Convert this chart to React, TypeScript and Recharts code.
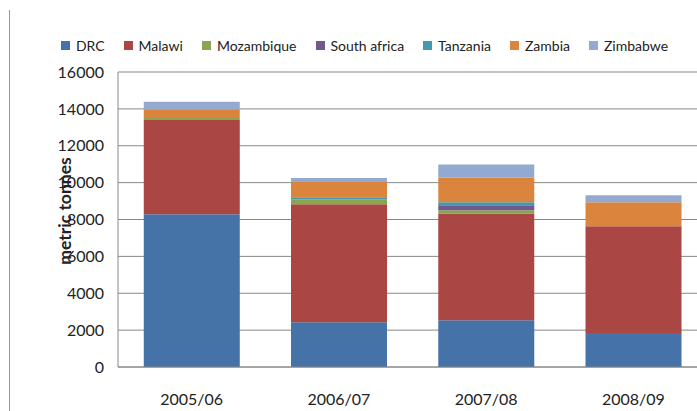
import React from 'react';
import { BarChart, Bar, XAxis, YAxis, CartesianGrid, Legend } from 'recharts';

const years = ['2005/06', '2006/07', '2007/08', '2008/09'];
const drc = [8290, 2430, 2540, 1840];
const malawi = [5110, 6400, 5780, 5800];
const mozambique = [110, 270, 180, 0];
const southAfrica = [0, 0, 270, 0];
const tanzania = [0, 110, 160, 0];
const zambia = [470, 820, 1350, 1290];
const zimbabwe = [400, 220, 700, 385];
const yTicks = [0, 2000, 4000, 6000, 8000, 10000, 12000, 14000, 16000];

const series = [
  { key: 'DRC', values: drc, color: '#4572A7' },
  { key: 'Malawi', values: malawi, color: '#AA4643' },
  { key: 'Mozambique', values: mozambique, color: '#89A54E' },
  { key: 'South africa', values: southAfrica, color: '#71588F' },
  { key: 'Tanzania', values: tanzania, color: '#4198AF' },
  { key: 'Zambia', values: zambia, color: '#DB843D' },
  { key: 'Zimbabwe', values: zimbabwe, color: '#93A9CF' },
];

const data = years.map((year, i) => {
  const row: Record<string, string | number> = { year };
  series.forEach((s) => {
    row[s.key] = s.values[i];
  });
  return row;
});

const font = 'Lato, "Open Sans", sans-serif';

const renderLegend = () => (
  <div style={{ display: 'flex', justifyContent: 'center', gap: 19, paddingLeft: 32, fontFamily: font, fontSize: 14, color: '#222' }}>
    {series.map((s) => (
      <div key={s.key} style={{ display: 'flex', alignItems: 'center' }}>
        <span style={{ display: 'inline-block', width: 9, height: 9, background: s.color, marginRight: 6 }} />
        <span>{s.key}</span>
      </div>
    ))}
  </div>
);

export default function App() {
  return (
    <div style={{ position: 'absolute', left: 0, top: 0, width: 697, height: 411, overflow: 'hidden', background: '#fff' }}>
      <div style={{ position: 'absolute', left: 9, top: 10, width: 1, height: 401, background: '#999' }} />
      <BarChart
        width={710}
        height={411}
        data={data}
        margin={{ top: 55, right: 3, left: 0, bottom: 0 }}
        barCategoryGap="17.5%"
      >
        <CartesianGrid vertical={false} stroke="#888" />
        <XAxis
          dataKey="year"
          height={44}
          axisLine={{ stroke: '#888' }}
          tickLine={false}
          tickSize={0}
          tickMargin={27}
          tick={{ fontFamily: font, fontSize: 16, fill: '#222' }}
        />
        <YAxis
          width={118}
          domain={[0, 16000]}
          ticks={yTicks}
          interval={0}
          axisLine={{ stroke: '#888' }}
          tickLine={false}
          tickSize={0}
          tickMargin={14}
          tick={{ fontFamily: font, fontSize: 16, fill: '#222' }}
          label={{
            content: () => (
              <text
                x={64}
                y={211}
                transform="rotate(-90 64 211)"
                textAnchor="middle"
                dominantBaseline="central"
                fontFamily={font}
                fontSize={17.5}
                fontWeight="bold"
                fill="#222"
              >
                metric tonnes
              </text>
            ),
          }}
        />
        <Legend
          verticalAlign="top"
          content={renderLegend}
          wrapperStyle={{ top: 37, left: 0, width: 697 }}
        />
        {series.map((s) => (
          <Bar key={s.key} dataKey={s.key} stackId="a" fill={s.color} isAnimationActive={false} />
        ))}
      </BarChart>
    </div>
  );
}
